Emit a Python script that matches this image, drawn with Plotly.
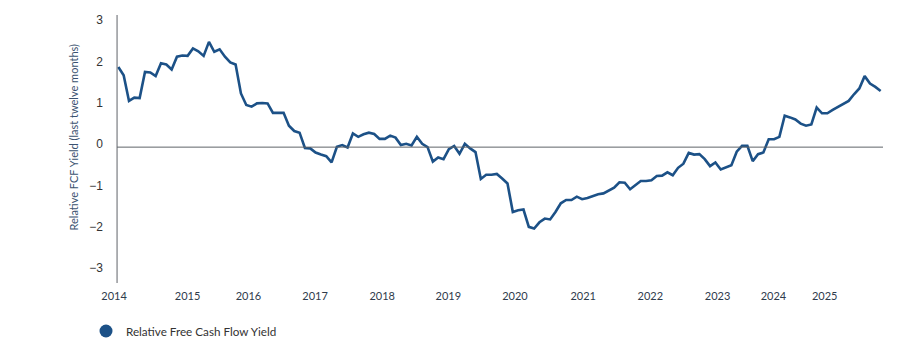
import plotly.graph_objects as go
import numpy as np

series_name = "Relative Free Cash Flow Yield"

fcf_yield = [
    1.94, 1.74, 1.12, 1.20, 1.19, 1.82, 1.81, 1.72, 2.03, 2.00, 1.88, 2.19,
    2.22, 2.21, 2.39, 2.32, 2.21, 2.55, 2.31, 2.37, 2.19, 2.05, 2.00,
    1.30, 1.02, 0.98, 1.06, 1.07, 1.06, 0.83, 0.83, 0.83, 0.52, 0.39, 0.35,
    -0.02, -0.03, -0.13, -0.18, -0.22, -0.37, 0.01, 0.05, -0.01, 0.33, 0.25, 0.31,
    0.35, 0.32, 0.20, 0.20, 0.28, 0.23, 0.05, 0.08, 0.04, 0.25, 0.08, 0.00,
    -0.35, -0.25, -0.29, -0.05, 0.03, -0.16, 0.08, -0.03, -0.12, -0.77, -0.67, -0.67, -0.65,
    -0.76, -0.88, -1.57, -1.53, -1.51, -1.93, -1.97, -1.82, -1.73, -1.75, -1.57, -1.36,
    -1.28, -1.28, -1.20, -1.26, -1.23, -1.18, -1.14, -1.12, -1.06, -0.98, -0.85,
    -0.86, -1.02, -0.92, -0.82, -0.82, -0.80, -0.70, -0.69, -0.61, -0.68, -0.50, -0.40,
    -0.14, -0.18, -0.17, -0.29, -0.46, -0.37, -0.54, -0.49, -0.44, -0.11, 0.03, 0.03, -0.34,
    -0.17, -0.13, 0.19, 0.19, 0.25, 0.76, 0.72, 0.67, 0.57, 0.52, 0.55, 0.96,
    0.82, 0.82, 0.90, 0.98, 1.04, 1.12, 1.28, 1.42, 1.72, 1.54, 1.46, 1.36,
]

year_labels = ["2014", "2015", "2016", "2017", "2018", "2019",
               "2020", "2021", "2022", "2023", "2024", "2025"]
# positions of the year labels, in units of observation index
year_label_positions = [-0.8, 13.0, 24.4, 36.9, 49.5, 61.9,
                        74.4, 87.2, 99.8, 112.4, 122.9, 132.5]

y_ticks = [-3, -2, -1, 0, 1, 2, 3]

obs_index = np.arange(len(fcf_yield))

line_color = "#1c5187"
axis_color = "#5f6368"

fig = go.Figure()
fig.add_trace(go.Scatter(
    x=obs_index, y=fcf_yield, mode="lines",
    line=dict(color=line_color, width=2.6),
    showlegend=False, hoverinfo="skip",
))
fig.add_trace(go.Scatter(
    x=[None], y=[None], mode="markers", name=series_name,
    marker=dict(color=line_color, size=13, symbol="circle"),
    showlegend=True,
))

x_lo, x_hi = -0.24, len(fcf_yield) - 1 + 0.44
fig.add_shape(type="line", xref="x", yref="paper", x0=x_lo, x1=x_lo, y0=0, y1=1,
              line=dict(color=axis_color, width=1))
fig.add_shape(type="line", xref="x", yref="y", x0=x_lo, x1=x_hi, y0=0, y1=0,
              line=dict(color=axis_color, width=1))

fig.add_annotation(
    text="Relative FCF Yield (last twelve months)",
    xref="paper", yref="paper", x=-0.0623, y=0.545, textangle=-90,
    showarrow=False, font=dict(family="Lato", size=11, color="#3a5270"),
)

fig.update_layout(
    width=911, height=350,
    margin=dict(l=113, r=28, t=15, b=67),
    plot_bgcolor="white", paper_bgcolor="white",
    xaxis=dict(
        range=[-1.0, x_hi], tickmode="array",
        tickvals=year_label_positions, ticktext=year_labels,
        showgrid=False, zeroline=False, showline=False, ticks="",
        ticklabelstandoff=5,
        tickfont=dict(family="Lato", size=11, color="#2f3b4c"),
    ),
    yaxis=dict(
        range=[-3.29, 3.20], tickmode="array", tickvals=y_ticks,
        showgrid=False, zeroline=False, showline=False, ticks="",
        ticklabelshift=-3, ticklabelstandoff=9,
        tickfont=dict(family="Liberation Sans", size=12, color="#333333"),
    ),
    legend=dict(
        orientation="h", x=86 / 911, y=1 - 331 / 350,
        xref="container", yref="container",
        xanchor="left", yanchor="middle",
        font=dict(family="Lato", size=11.7, color="#333333"),
        bgcolor="rgba(0,0,0,0)",
    ),
    font=dict(family="Lato"),
)

fig.write_html("out.html")
